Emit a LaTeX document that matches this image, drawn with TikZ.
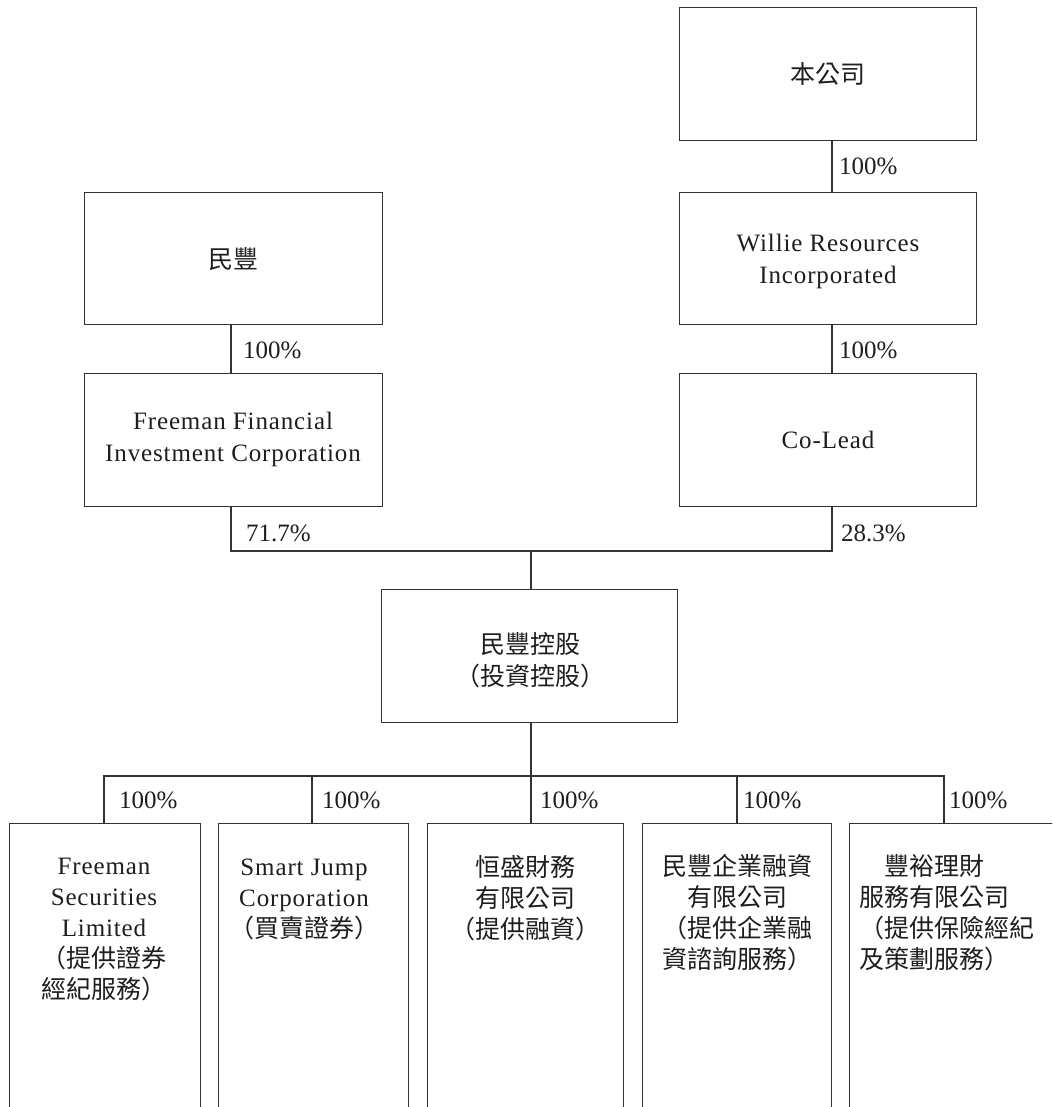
\documentclass[tikz,border=0pt]{standalone}
\usepackage{fontspec}
\setmainfont{Liberation Serif}
\newfontfamily\lat[LetterSpace=3.5]{Liberation Serif}
\newfontfamily\cjk{Noto Sans CJK TC}
\definecolor{linec}{HTML}{333333}
\definecolor{textc}{HTML}{1E1E1E}
\tikzset{
  box/.style={draw=linec, line width=1.3pt, rectangle, inner sep=0pt, anchor=north west},
  txt/.style={inner sep=0pt, align=center, text=textc, font=\lat\fontsize{25}{32}\selectfont},
  btxt/.style={inner sep=0pt, align=center, text=textc, font=\lat\fontsize{25}{31}\selectfont},
  pct/.style={inner sep=0pt, anchor=west, text=textc, font=\fontsize{25}{30}\selectfont},
  conn/.style={draw=linec, line width=1.3pt}
}
\begin{document}
\begin{tikzpicture}[x=1pt,y=-1pt]
\useasboundingbox (0,0) rectangle (1052,1107);
\clip (0,0) rectangle (1052,1107);
% top left column
\node[box, minimum width=298pt, minimum height=132pt] (mf) at (84,192) {};
\node[box, minimum width=298pt, minimum height=133pt] (ff) at (84,373) {};
% top right column
\node[box, minimum width=297pt, minimum height=133pt] (bg) at (679,7) {};
\node[box, minimum width=297pt, minimum height=132pt] (wr) at (679,192) {};
\node[box, minimum width=297pt, minimum height=133pt] (co) at (679,373) {};
% middle
\node[box, minimum width=296pt, minimum height=133pt] (mid) at (381,589) {};
% bottom boxes
\node[box, minimum width=191pt, minimum height=320pt] (b1) at (9,823) {};
\node[box, minimum width=190pt, minimum height=320pt] (b2) at (218,823) {};
\node[box, minimum width=196pt, minimum height=320pt] (b3) at (427,823) {};
\node[box, minimum width=189pt, minimum height=320pt] (b4) at (642,823) {};
\node[box, minimum width=230pt, minimum height=320pt] (b5) at (849,823) {};

% texts
\node[txt] (tmf) at (233,259) {\cjk 民豐};
\node[txt] (tff) at (233,439) {Freeman Financial\\Investment Corporation};
\node[txt] (tbg) at (828,74) {\cjk 本公司};
\node[txt] (twr) at (828,261) {Willie Resources\\Incorporated};
\node[txt] (tco) at (828,440) {Co-Lead};
\node[txt] (tmid) at (530,660) {{\cjk 民豐控股}\\{\cjk （投資控股）}};
\node[btxt] (tb1) at (104,930) {Freeman\\Securities\\Limited\\{\cjk （提供證券}\\{\cjk 經紀服務）}};
\node[btxt] (tb2) at (304,899) {Smart Jump\\Corporation\\{\cjk （買賣證券）}};
\node[btxt] (tb3) at (525,898) {{\cjk 恒盛財務}\\{\cjk 有限公司}\\{\cjk （提供融資）}};
\node[btxt] (tb4) at (737,913) {{\cjk 民豐企業融資}\\{\cjk 有限公司}\\{\cjk （提供企業融}\\{\cjk 資諮詢服務）}};
\node[btxt, align=left, anchor=west] (tb5) at (859,913) {\makebox[150pt]{\cjk 豐裕理財}\\{\cjk 服務有限公司}\\{\cjk （提供保險經紀}\\{\cjk 及策劃服務）}};

% connector coordinates
\coordinate (cl) at (231,0);
\coordinate (cr) at (832,0);
\coordinate (j1) at (531,551);
\coordinate (j2) at (531,776);
\coordinate (d1) at (104,0);
\coordinate (d2) at (312,0);
\coordinate (d4) at (737,0);
\coordinate (d5) at (944,0);

% connectors
\draw[conn] (mf.south -| cl) -- (ff.north -| cl);
\draw[conn] (bg.south -| cr) -- (wr.north -| cr);
\draw[conn] (wr.south -| cr) -- (co.north -| cr);
\draw[conn] (ff.south -| cl) -- (cl |- j1) -- (cr |- j1) -- (co.south -| cr);
\draw[conn] (j1) -- (mid.north -| j1);
\draw[conn] (mid.south -| j2) -- (j2);
\draw[conn] (b1.north -| d1) -- (d1 |- j2) -- (d5 |- j2) -- (b5.north -| d5);
\draw[conn] (d2 |- j2) -- (b2.north -| d2);
\draw[conn] (j2) -- (b3.north -| j2);
\draw[conn] (d4 |- j2) -- (b4.north -| d4);

% percentages
\node[pct] (p1) at (839,166) {100\%};
\node[pct] (p2) at (839,350) {100\%};
\node[pct] (p3) at (243,350) {100\%};
\node[pct] (p4) at (246,533) {71.7\%};
\node[pct] (p5) at (841,533) {28.3\%};
\node[pct] (q1) at (119,800) {100\%};
\node[pct] (q2) at (322,800) {100\%};
\node[pct] (q3) at (540,800) {100\%};
\node[pct] (q4) at (743,800) {100\%};
\node[pct] (q5) at (949,800) {100\%};
\end{tikzpicture}
\end{document}
